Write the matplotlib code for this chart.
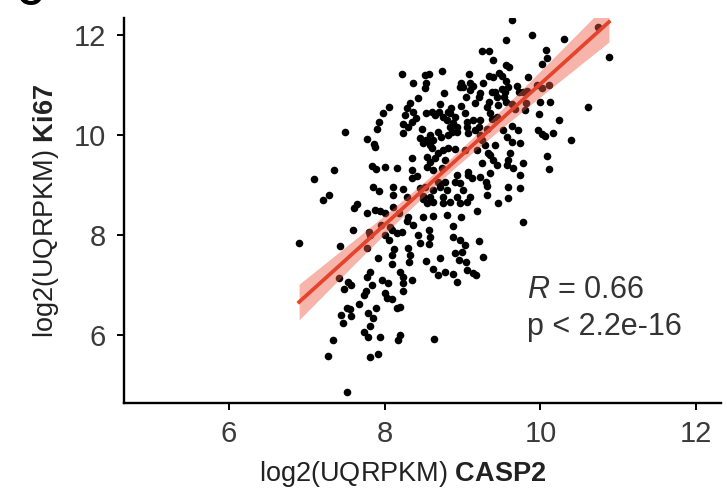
"""Ki67 vs CASP2 expression scatter with linear fit and 95% CI band."""
import matplotlib
matplotlib.use("Agg")
import matplotlib.pyplot as plt
import numpy as np

plt.rcParams["font.family"] = ["Liberation Sans", "DejaVu Sans"]
plt.rcParams["mathtext.fontset"] = "custom"
plt.rcParams["mathtext.rm"] = "Liberation Sans"
plt.rcParams["mathtext.it"] = "Liberation Sans:italic"
plt.rcParams["mathtext.bf"] = "Liberation Sans:bold"

# log2(UQRPKM) CASP2 (x) and Ki67 (y)
casp2 = [
    # left / upper edge
    7.93, 7.90, 7.49, 7.77, 7.86, 9.56, 9.64, 10.74, 9.89, 10.30, 10.88,
    10.07, 10.08, 10.02, 10.11, 9.96, 10.02, 9.99, 10.12, 10.61, 9.98,
    10.24, 9.97, 10.02, 10.06, 10.16, 10.39, 10.08, 10.11, 9.78,
    7.88, 7.35, 7.09, 7.84, 7.89, 7.85, 7.93, 7.28, 7.21, 7.64, 7.61, 7.77,
    7.88, 7.94, 8.00, 8.18, 7.59, 7.80, 7.81, 7.95, 8.07, 8.09, 8.00, 8.06,
    8.16, 6.90, 7.43, 7.77, 8.12, 8.09, 7.91, 8.09, 7.81, 8.20,
    # middle band below the dense core
    9.19, 8.30, 8.29, 8.49, 8.62, 8.80, 8.98, 8.36, 8.88, 8.57, 8.22, 8.43,
    8.58, 8.88, 8.97, 9.21, 8.45, 8.57, 9.03, 8.30, 8.90, 8.99, 8.71, 8.33,
    8.53, 8.95, 9.04, 9.26, 8.31, 8.62, 8.77, 9.06, 9.13, 8.88,
    # lower tail
    7.41, 7.53, 7.57, 7.48, 7.77, 7.97, 8.04, 7.84, 7.76, 7.73, 8.00, 8.03,
    8.09, 8.16, 7.67, 7.52, 7.55, 7.44, 7.57, 7.89, 7.79, 7.85, 7.46, 7.81,
    7.73, 7.79, 7.94, 8.20, 8.17, 7.34, 7.27, 7.81, 7.91, 7.52,
    8.24, 8.35, 8.24, 8.24, 8.20, 8.68, 8.93, 9.17, 8.63,
    # dense core
    9.25, 9.34, 9.39, 9.56, 9.60, 8.22, 8.52, 8.57, 8.74, 9.08, 9.34, 9.47,
    9.51, 8.36, 8.53, 8.52, 8.98, 9.10, 9.13, 9.26, 9.39, 9.56, 9.70, 9.84,
    8.76, 8.97, 9.01, 9.04, 9.10, 9.22, 9.21, 9.38, 9.42, 9.51, 9.55, 9.58,
    9.44, 9.53, 9.56, 9.72, 9.78, 9.83, 8.32, 8.29, 8.43, 8.71, 8.85, 8.81,
    8.98, 9.16, 9.31, 9.34, 9.46, 9.64, 9.67, 9.80, 9.81, 7.98, 8.26, 8.36,
    8.40, 8.53, 8.61, 8.65, 8.70, 8.75, 8.80, 8.84, 8.88, 8.90, 8.93, 8.84,
    9.03, 9.06, 9.13, 9.22, 9.35, 9.38, 9.21, 9.31, 9.44, 9.52, 9.64, 9.71,
    8.24, 8.30, 8.35, 8.48, 8.24, 8.45, 8.49, 8.53, 8.58, 8.58, 8.62, 8.61,
    8.68, 8.72, 8.81, 8.86, 8.93, 9.06, 9.07, 9.16, 9.22, 9.25, 9.29, 9.33,
    9.35, 9.42, 9.57, 9.64, 9.74, 8.35, 8.00, 8.16, 8.54, 8.58, 8.65, 8.68,
    8.75, 8.77, 8.81, 8.90, 8.74, 8.62, 8.54, 9.03, 9.07, 8.93, 8.90, 8.77,
    8.68, 8.35, 8.35, 8.41, 8.11, 8.24, 8.45, 8.52, 8.62, 8.71, 8.58, 8.62,
    8.49, 8.54, 8.29, 8.11, 8.80, 8.75, 8.75, 8.84, 8.97, 9.01, 9.07, 8.93,
    9.06, 9.10, 9.30, 9.31, 9.31, 9.46, 9.58, 9.58, 9.74, 9.65, 9.74, 9.78,
    9.57, 9.58, 9.61, 9.35, 9.22, 9.12, 9.25, 9.19, 9.44, 9.39, 8.97, 8.49,
    8.11, 8.06,
]
ki67 = [
    # left / upper edge
    10.26, 10.12, 10.06, 9.92, 9.82, 11.90, 12.30, 12.16, 12.00, 11.92, 11.56,
    11.70, 11.54, 11.42, 11.00, 11.00, 10.94, 10.66, 10.66, 10.56, 10.42,
    10.30, 10.10, 10.02, 9.98, 10.04, 9.90, 9.58, 9.32, 8.26,
    9.76, 9.30, 9.12, 9.38, 9.32, 8.96, 8.88, 8.80, 8.70, 8.62, 8.54, 8.44,
    8.50, 8.48, 8.44, 8.44, 8.10, 8.06, 8.00, 8.20, 8.16, 8.10, 8.00, 7.90,
    8.04, 7.84, 7.78, 7.74, 7.72, 7.60, 7.54, 7.42, 7.26, 7.26,
    # middle band below the dense core
    8.48, 8.36, 8.28, 8.36, 8.38, 8.40, 8.36, 8.20, 8.18, 8.10, 8.06, 8.00,
    7.96, 7.96, 7.90, 7.88, 7.84, 7.82, 7.80, 7.74, 7.64, 7.66, 7.54, 7.60,
    7.48, 7.50, 7.46, 7.56, 7.46, 7.32, 7.26, 7.30, 7.24, 7.22,
    # lower tail
    7.14, 7.06, 7.00, 6.92, 7.16, 7.10, 7.04, 7.00, 6.88, 6.80, 6.84, 6.74,
    6.72, 6.54, 6.62, 6.54, 6.52, 6.40, 6.38, 6.54, 6.44, 6.34, 6.24, 6.18,
    6.06, 5.96, 5.96, 6.00, 5.90, 5.90, 5.58, 5.56, 5.62, 4.86,
    7.16, 7.10, 7.04, 6.88, 6.56, 7.20, 7.06, 7.20, 5.92,
    # dense core
    11.68, 11.68, 11.50, 11.40, 11.36, 11.22, 11.20, 11.22, 11.28, 11.22,
    11.18, 11.24, 11.18, 11.04, 11.04, 10.94, 11.04, 11.04, 10.98, 11.04,
    11.16, 11.08, 10.98, 11.16, 10.84, 10.96, 10.96, 10.76, 10.90, 10.84,
    10.76, 10.86, 10.86, 10.92, 10.86, 10.96, 10.76, 10.76, 10.66, 10.86,
    10.86, 10.88, 10.64, 10.54, 10.74, 10.62, 10.54, 10.46, 10.58, 10.64,
    10.56, 10.66, 10.60, 10.62, 10.52, 10.50, 10.64, 10.44, 10.40, 10.46,
    10.34, 10.44, 10.46, 10.40, 10.46, 10.36, 10.30, 10.44, 10.24, 10.36,
    10.16, 10.16, 10.44, 10.26, 10.30, 10.30, 10.44, 10.32, 10.16, 10.12,
    10.36, 10.10, 10.18, 10.10, 10.22, 10.16, 10.26, 10.12, 10.04, 9.94,
    9.84, 9.90, 10.00, 9.80, 9.90, 9.74, 10.06, 9.96, 10.00, 10.06, 10.06,
    10.16, 10.04, 10.10, 10.00, 9.90, 9.80, 9.64, 9.60, 9.80, 9.96, 9.86,
    9.84, 9.54, 9.36, 9.34, 9.56, 9.46, 9.54, 9.64, 9.70, 9.50, 9.74, 9.72,
    9.34, 9.30, 9.36, 9.70, 9.26, 9.20, 9.06, 9.06, 9.06, 9.14, 9.30, 9.18,
    8.96, 8.92, 8.94, 8.96, 8.90, 8.96, 8.76, 8.66, 8.72, 8.64, 8.76, 8.56,
    8.90, 8.76, 8.64, 8.66, 9.04, 8.90, 9.20, 8.76, 8.66, 8.76, 9.06, 8.98,
    8.80, 8.64, 8.96, 8.74, 8.94, 9.34, 9.20, 9.44, 9.40, 9.50, 9.64, 9.24,
    9.16, 9.14, 9.44, 9.70, 9.40, 9.50, 8.64, 8.78, 8.80, 10.56,
]

# ggplot geom_smooth(method="lm") line, read at the ends of the x range
fit_x = [6.90, 10.88]
fit_y = [6.66, 12.26]

stat_lines = ["$\\it{R}$ = 0.66", "p < 2.2e-16"]

x = np.array(casp2)
y = np.array(ki67)

# 95% confidence band around the fitted line
n = len(x)
slope = (fit_y[1] - fit_y[0]) / (fit_x[1] - fit_x[0])
inter = fit_y[0] - slope * fit_x[0]
xs = np.linspace(fit_x[0], fit_x[1], 100)
fit = slope * xs + inter
resid = y - (slope * x + inter)
s = np.sqrt(np.sum(resid ** 2) / (n - 2))
se = s * np.sqrt(1 / n + (xs - x.mean()) ** 2 / np.sum((x - x.mean()) ** 2))
ci = 1.97 * se

fig = plt.figure(figsize=(7.27, 4.93), dpi=100)
ax = fig.add_axes([124 / 727, 1 - 403 / 493, (721 - 124) / 727, (403 - 18) / 493])

ax.scatter(x, y, s=30, color="black", linewidths=0, zorder=2)
ax.fill_between(xs, fit - ci, fit + ci, color="#EC5A45", alpha=0.45,
                linewidth=0, zorder=3)
ax.plot(xs, fit, color="#E4432C", linewidth=2.7, zorder=4)

ax.set_xlim(4.65, 12.32)
ax.set_ylim(4.64, 12.34)
ax.set_xticks([6, 8, 10, 12])
ax.set_yticks([6, 8, 10, 12])
ax.tick_params(labelsize=21, length=5, width=1.4, color="black",
               labelcolor="#3a3a3a")
ax.tick_params(axis="x", pad=7)
ax.tick_params(axis="y", pad=8)
for side in ("top", "right"):
    ax.spines[side].set_visible(False)
for side in ("left", "bottom"):
    ax.spines[side].set_linewidth(1.7)

ax.set_xlabel("log2(UQRPKM) $\\mathbf{CASP2}$", fontsize=19.5, color="#222222")
ax.set_ylabel("log2(UQRPKM) $\\mathbf{Ki67}$", fontsize=19.5, color="#222222")
ax.xaxis.set_label_coords(0.467, -0.145)
ax.yaxis.set_label_coords(-0.105, 0.5)

ax.text(0.675, 0.245, "\n".join(stat_lines), transform=ax.transAxes,
        ha="left", va="center", fontsize=22, color="#333333", linespacing=1.3)

# panel letter, cut off by the top edge
fig.text(0.04, 1.01, "C", ha="center", va="center", fontsize=26,
         fontweight="bold")

fig.savefig("out.png", dpi=100)
